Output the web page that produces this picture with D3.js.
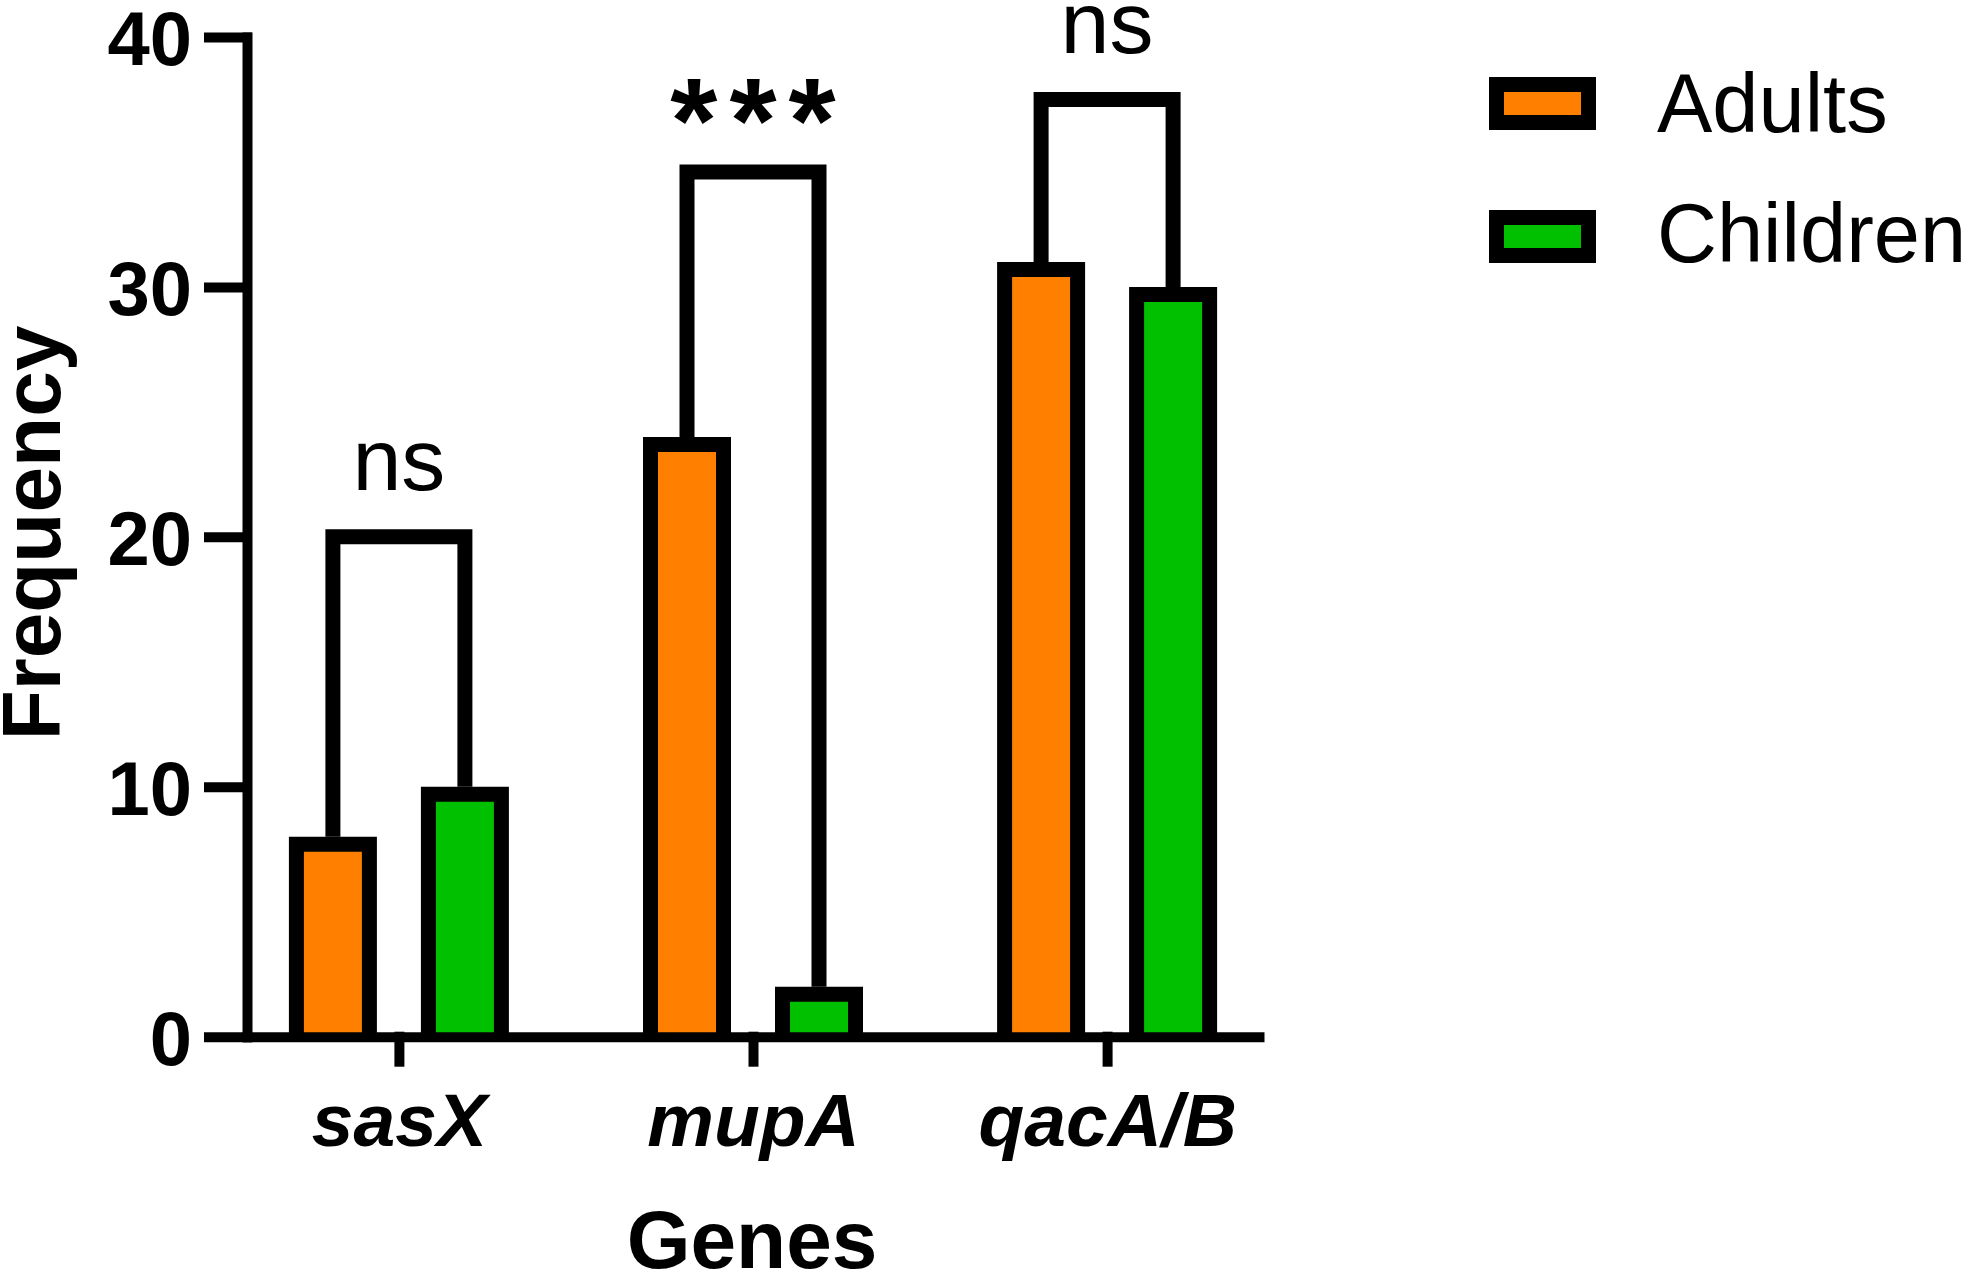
<!DOCTYPE html>
<html>
<head>
<meta charset="utf-8">
<script src="https://cdn.jsdelivr.net/npm/d3@7"></script>
<style>
  body { margin: 0; background: #fff; }
  svg { display: block; font-family: "Liberation Sans", Arial, sans-serif; }
</style>
</head>
<body>
<div id="chart"></div>
<script>

// data
var genes = ["sasX", "mupA", "qacA/B"];
var groups = ["Adults", "Children"];
var adults = [8, 24, 31];
var children = [10, 2, 30];
var colors = ["#ff8000", "#00c000"];
// significance brackets: height (in y units) and label
var bracketY = [20, 34.6, 37.5];
var bracketLabel = ["ns", "***", "ns"];
var yTicks = [0, 10, 20, 30, 40];

var W = 1968, H = 1280;
var axisW = 10, barW = 15;

var svg = d3.select("#chart").append("svg")
  .attr("width", W)
  .attr("height", H);

var y = d3.scaleLinear().domain([0, 40]).range([1036.7, 37]);
var x = d3.scalePoint().domain(genes).range([247, 1259]).padding(0.429);
var xs = d3.scaleBand().domain(groups).range([-110, 110]).paddingInner(1 / 3).paddingOuter(0);

var values = [adults, children];

// bars (three sided outline, bottom covered by axis)
genes.forEach(function(g, gi) {
  groups.forEach(function(s, si) {
    var v = values[si][gi];
    var x0 = x(g) + xs(s) + barW / 2;
    var x1 = x(g) + xs(s) + xs.bandwidth() - barW / 2;
    var yt = y(v) + barW / 2;
    svg.append("path")
      .attr("d", "M" + x0 + "," + y(0) + "V" + yt + "H" + x1 + "V" + y(0))
      .attr("fill", colors[si])
      .attr("stroke", "#000")
      .attr("stroke-width", barW)
      .attr("stroke-linejoin", "miter");
  });
});

// brackets
genes.forEach(function(g, gi) {
  var xa = x(g) + xs("Adults") + xs.bandwidth() / 2;
  var xc = x(g) + xs("Children") + xs.bandwidth() / 2;
  var yb = y(bracketY[gi]);
  svg.append("path")
    .attr("d", "M" + xa + "," + y(adults[gi]) + "V" + yb + "H" + xc + "V" + y(children[gi]))
    .attr("fill", "none")
    .attr("stroke", "#000")
    .attr("stroke-width", barW)
    .attr("stroke-linejoin", "miter");

  var lab = bracketLabel[gi];
  if (lab == "ns") {
    svg.append("text")
      .attr("x", (xa + xc) / 2)
      .attr("y", yb - barW / 2 - 39)
      .attr("text-anchor", "middle")
      .attr("font-size", 88)
      .text(lab);
  } else {
    svg.append("text")
      .attr("x", (xa + xc) / 2 + 6)
      .attr("y", yb - barW / 2 - 2)
      .attr("text-anchor", "middle")
      .attr("font-size", 121)
      .attr("font-weight", "bold")
      .attr("letter-spacing", 12)
      .text(lab);
  }
});

// y axis
var yAxis = svg.append("g")
  .attr("transform", "translate(247,0)")
  .call(d3.axisLeft(y).tickValues(yTicks).tickSize(38).tickSizeOuter(0).tickPadding(17));
yAxis.selectAll("path, line")
  .attr("stroke", "#000")
  .attr("stroke-width", axisW)
  .attr("stroke-linecap", "square");
yAxis.selectAll("text")
  .attr("font-family", "'Liberation Sans', Arial, sans-serif")
  .attr("font-size", 76)
  .attr("font-weight", "bold")
  .attr("fill", "#000")
  .attr("dy", "0.36em");

// x axis
var xAxis = svg.append("g")
  .attr("transform", "translate(0," + y(0) + ")")
  .call(d3.axisBottom(x).tickSize(25).tickSizeOuter(0).tickPadding(31));
xAxis.selectAll("path, line")
  .attr("stroke", "#000")
  .attr("stroke-width", axisW)
  .attr("stroke-linecap", "square");
xAxis.selectAll("text")
  .attr("font-family", "'Liberation Sans', Arial, sans-serif")
  .attr("font-size", 75)
  .attr("font-weight", "bold")
  .attr("font-style", "italic")
  .attr("fill", "#000");

// axis titles
svg.append("text")
  .attr("x", 752)
  .attr("y", 1268)
  .attr("text-anchor", "middle")
  .attr("font-size", 82)
  .attr("font-weight", "bold")
  .text("Genes");

svg.append("text")
  .attr("transform", "translate(60,533) rotate(-90)")
  .attr("text-anchor", "middle")
  .attr("font-size", 82)
  .attr("font-weight", "bold")
  .text("Frequency");

// legend
var legend = svg.append("g");
groups.forEach(function(s, i) {
  legend.append("rect")
    .attr("x", 1496.5)
    .attr("y", 84.5 + i * 133)
    .attr("width", 92)
    .attr("height", 38)
    .attr("fill", colors[i])
    .attr("stroke", "#000")
    .attr("stroke-width", barW);
  legend.append("text")
    .attr("x", 1657)
    .attr("y", 132 + i * 130)
    .attr("font-size", 83)
    .text(s);
});

</script>
</body>
</html>
